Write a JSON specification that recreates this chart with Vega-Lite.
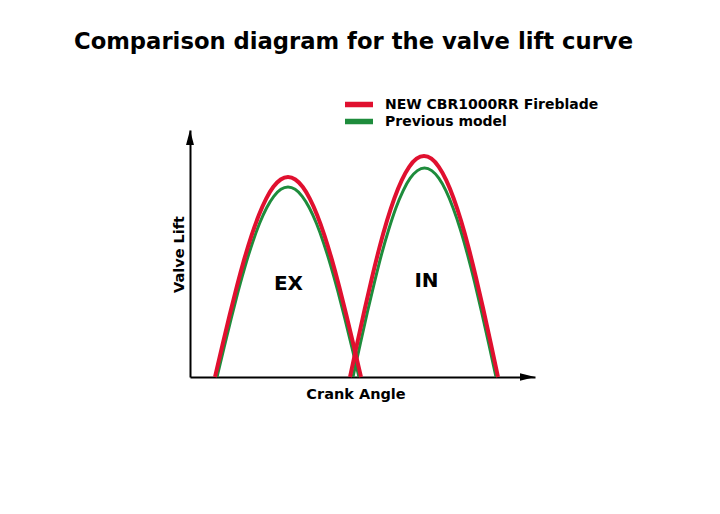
{
  "$schema": "https://vega.github.io/schema/vega-lite/v6.json",
  "width": 345,
  "height": 247,
  "autosize": {"type": "none"},
  "padding": {"left": 190, "top": 130, "right": 185, "bottom": 137},
  "background": "white",
  "config": {"view": {"stroke": null}},
  "title": {
    "text": "Comparison diagram for the valve lift curve",
    "font": "DejaVu Sans",
    "fontSize": 22.7,
    "fontWeight": "bold",
    "color": "black",
    "anchor": "middle",
    "baseline": "alphabetic",
    "offset": 24,
    "dx": -9
  },
  "datasets": {
    "curves": [
      {"model": "NEW CBR1000RR Fireblade", "valve": "EX", "angle": 25, "lift": 0},
      {"model": "NEW CBR1000RR Fireblade", "valve": "EX", "angle": 32.3, "lift": 31.3},
      {"model": "NEW CBR1000RR Fireblade", "valve": "EX", "angle": 39.6, "lift": 61.8},
      {"model": "NEW CBR1000RR Fireblade", "valve": "EX", "angle": 46.9, "lift": 90.8},
      {"model": "NEW CBR1000RR Fireblade", "valve": "EX", "angle": 54.2, "lift": 117.6},
      {"model": "NEW CBR1000RR Fireblade", "valve": "EX", "angle": 61.5, "lift": 141.4},
      {"model": "NEW CBR1000RR Fireblade", "valve": "EX", "angle": 68.8, "lift": 161.8},
      {"model": "NEW CBR1000RR Fireblade", "valve": "EX", "angle": 76.1, "lift": 178.2},
      {"model": "NEW CBR1000RR Fireblade", "valve": "EX", "angle": 83.4, "lift": 190.2},
      {"model": "NEW CBR1000RR Fireblade", "valve": "EX", "angle": 90.7, "lift": 197.5},
      {"model": "NEW CBR1000RR Fireblade", "valve": "EX", "angle": 98, "lift": 200},
      {"model": "NEW CBR1000RR Fireblade", "valve": "EX", "angle": 105.3, "lift": 197.5},
      {"model": "NEW CBR1000RR Fireblade", "valve": "EX", "angle": 112.6, "lift": 190.2},
      {"model": "NEW CBR1000RR Fireblade", "valve": "EX", "angle": 119.9, "lift": 178.2},
      {"model": "NEW CBR1000RR Fireblade", "valve": "EX", "angle": 127.2, "lift": 161.8},
      {"model": "NEW CBR1000RR Fireblade", "valve": "EX", "angle": 134.5, "lift": 141.4},
      {"model": "NEW CBR1000RR Fireblade", "valve": "EX", "angle": 141.8, "lift": 117.6},
      {"model": "NEW CBR1000RR Fireblade", "valve": "EX", "angle": 149.1, "lift": 90.8},
      {"model": "NEW CBR1000RR Fireblade", "valve": "EX", "angle": 156.4, "lift": 61.8},
      {"model": "NEW CBR1000RR Fireblade", "valve": "EX", "angle": 163.7, "lift": 31.3},
      {"model": "NEW CBR1000RR Fireblade", "valve": "EX", "angle": 171, "lift": 0},
      {"model": "Previous model", "valve": "EX", "angle": 27, "lift": 0},
      {"model": "Previous model", "valve": "EX", "angle": 34.1, "lift": 29.7},
      {"model": "Previous model", "valve": "EX", "angle": 41.2, "lift": 58.7},
      {"model": "Previous model", "valve": "EX", "angle": 48.3, "lift": 86.3},
      {"model": "Previous model", "valve": "EX", "angle": 55.4, "lift": 111.7},
      {"model": "Previous model", "valve": "EX", "angle": 62.5, "lift": 134.3},
      {"model": "Previous model", "valve": "EX", "angle": 69.6, "lift": 153.7},
      {"model": "Previous model", "valve": "EX", "angle": 76.7, "lift": 169.3},
      {"model": "Previous model", "valve": "EX", "angle": 83.8, "lift": 180.7},
      {"model": "Previous model", "valve": "EX", "angle": 90.9, "lift": 187.7},
      {"model": "Previous model", "valve": "EX", "angle": 98, "lift": 190},
      {"model": "Previous model", "valve": "EX", "angle": 105.1, "lift": 187.7},
      {"model": "Previous model", "valve": "EX", "angle": 112.2, "lift": 180.7},
      {"model": "Previous model", "valve": "EX", "angle": 119.3, "lift": 169.3},
      {"model": "Previous model", "valve": "EX", "angle": 126.4, "lift": 153.7},
      {"model": "Previous model", "valve": "EX", "angle": 133.5, "lift": 134.3},
      {"model": "Previous model", "valve": "EX", "angle": 140.6, "lift": 111.7},
      {"model": "Previous model", "valve": "EX", "angle": 147.7, "lift": 86.3},
      {"model": "Previous model", "valve": "EX", "angle": 154.8, "lift": 58.7},
      {"model": "Previous model", "valve": "EX", "angle": 161.9, "lift": 29.7},
      {"model": "Previous model", "valve": "EX", "angle": 169, "lift": 0},
      {"model": "NEW CBR1000RR Fireblade", "valve": "IN", "angle": 160, "lift": 0},
      {"model": "NEW CBR1000RR Fireblade", "valve": "IN", "angle": 167.4, "lift": 34.6},
      {"model": "NEW CBR1000RR Fireblade", "valve": "IN", "angle": 174.8, "lift": 68.3},
      {"model": "NEW CBR1000RR Fireblade", "valve": "IN", "angle": 182.2, "lift": 100.3},
      {"model": "NEW CBR1000RR Fireblade", "valve": "IN", "angle": 189.6, "lift": 129.9},
      {"model": "NEW CBR1000RR Fireblade", "valve": "IN", "angle": 197, "lift": 156.3},
      {"model": "NEW CBR1000RR Fireblade", "valve": "IN", "angle": 204.4, "lift": 178.8},
      {"model": "NEW CBR1000RR Fireblade", "valve": "IN", "angle": 211.8, "lift": 196.9},
      {"model": "NEW CBR1000RR Fireblade", "valve": "IN", "angle": 219.2, "lift": 210.2},
      {"model": "NEW CBR1000RR Fireblade", "valve": "IN", "angle": 226.6, "lift": 218.3},
      {"model": "NEW CBR1000RR Fireblade", "valve": "IN", "angle": 234, "lift": 221},
      {"model": "NEW CBR1000RR Fireblade", "valve": "IN", "angle": 241.4, "lift": 218.3},
      {"model": "NEW CBR1000RR Fireblade", "valve": "IN", "angle": 248.8, "lift": 210.2},
      {"model": "NEW CBR1000RR Fireblade", "valve": "IN", "angle": 256.2, "lift": 196.9},
      {"model": "NEW CBR1000RR Fireblade", "valve": "IN", "angle": 263.6, "lift": 178.8},
      {"model": "NEW CBR1000RR Fireblade", "valve": "IN", "angle": 271, "lift": 156.3},
      {"model": "NEW CBR1000RR Fireblade", "valve": "IN", "angle": 278.4, "lift": 129.9},
      {"model": "NEW CBR1000RR Fireblade", "valve": "IN", "angle": 285.8, "lift": 100.3},
      {"model": "NEW CBR1000RR Fireblade", "valve": "IN", "angle": 293.2, "lift": 68.3},
      {"model": "NEW CBR1000RR Fireblade", "valve": "IN", "angle": 300.6, "lift": 34.6},
      {"model": "NEW CBR1000RR Fireblade", "valve": "IN", "angle": 308, "lift": 0},
      {"model": "Previous model", "valve": "IN", "angle": 163, "lift": 0},
      {"model": "Previous model", "valve": "IN", "angle": 170.2, "lift": 32.7},
      {"model": "Previous model", "valve": "IN", "angle": 177.3, "lift": 64.6},
      {"model": "Previous model", "valve": "IN", "angle": 184.5, "lift": 94.9},
      {"model": "Previous model", "valve": "IN", "angle": 191.6, "lift": 122.9},
      {"model": "Previous model", "valve": "IN", "angle": 198.8, "lift": 147.8},
      {"model": "Previous model", "valve": "IN", "angle": 205.9, "lift": 169.1},
      {"model": "Previous model", "valve": "IN", "angle": 213.1, "lift": 186.2},
      {"model": "Previous model", "valve": "IN", "angle": 220.2, "lift": 198.8},
      {"model": "Previous model", "valve": "IN", "angle": 227.4, "lift": 206.4},
      {"model": "Previous model", "valve": "IN", "angle": 234.5, "lift": 209},
      {"model": "Previous model", "valve": "IN", "angle": 241.7, "lift": 206.4},
      {"model": "Previous model", "valve": "IN", "angle": 248.8, "lift": 198.8},
      {"model": "Previous model", "valve": "IN", "angle": 256, "lift": 186.2},
      {"model": "Previous model", "valve": "IN", "angle": 263.1, "lift": 169.1},
      {"model": "Previous model", "valve": "IN", "angle": 270.3, "lift": 147.8},
      {"model": "Previous model", "valve": "IN", "angle": 277.4, "lift": 122.9},
      {"model": "Previous model", "valve": "IN", "angle": 284.6, "lift": 94.9},
      {"model": "Previous model", "valve": "IN", "angle": 291.7, "lift": 64.6},
      {"model": "Previous model", "valve": "IN", "angle": 298.9, "lift": 32.7},
      {"model": "Previous model", "valve": "IN", "angle": 306, "lift": 0}
    ],
    "arrows": [
      {"angle": 0, "lift": 239.5, "shape": "M0,-1L0.53,1L-0.53,1Z"},
      {"angle": 337.5, "lift": 0, "shape": "M1,0L-1,0.5L-1,-0.5Z"}
    ],
    "labels": [
      {"label": "EX", "angle": 98.5, "lift": 93},
      {"label": "IN", "angle": 236.5, "lift": 96}
    ]
  },
  "encoding": {
    "x": {
      "field": "angle",
      "type": "quantitative",
      "scale": {"domain": [0, 345], "nice": false, "zero": false},
      "axis": {
        "title": "Crank Angle",
        "ticks": false,
        "labels": false,
        "grid": false,
        "domainColor": "black",
        "domainWidth": 2,
        "titleFont": "DejaVu Sans",
        "titleFontSize": 14.5,
        "titleFontWeight": "bold",
        "titleColor": "black",
        "titleX": 165.5,
        "titleY": 21,
        "titleAlign": "center",
        "titleBaseline": "alphabetic"
      }
    },
    "y": {
      "field": "lift",
      "type": "quantitative",
      "scale": {"domain": [0, 247], "nice": false, "zero": false},
      "axis": {
        "title": "Valve Lift",
        "ticks": false,
        "labels": false,
        "grid": false,
        "domainColor": "black",
        "domainWidth": 2,
        "titleFont": "DejaVu Sans",
        "titleFontSize": 14.5,
        "titleFontWeight": "bold",
        "titleColor": "black",
        "titleAngle": 270,
        "titleX": -7,
        "titleY": 124,
        "titleAlign": "center",
        "titleBaseline": "alphabetic"
      }
    }
  },
  "layer": [
    {
      "data": {"name": "curves"},
      "transform": [{"filter": "datum.model === 'Previous model'"}],
      "mark": {"type": "line", "strokeWidth": 3, "interpolate": "natural"},
      "encoding": {
        "color": {
          "field": "model",
          "type": "nominal",
          "scale": {"domain": ["NEW CBR1000RR Fireblade", "Previous model"], "range": ["#E0102F", "#1E8C3C"]},
          "legend": {
            "orient": "none",
            "legendX": 152,
            "legendY": -34,
            "title": null,
            "padding": 0,
            "symbolType": "stroke",
            "symbolSize": 784,
            "symbolStrokeWidth": 5.5,
            "symbolOpacity": 1,
            "labelFont": "DejaVu Sans",
            "labelFontWeight": "bold",
            "labelFontSize": 14,
            "labelColor": "black",
            "labelOffset": 9,
            "labelLimit": 400,
            "clipHeight": 17,
            "rowPadding": 0
          }
        },
        "detail": {"field": "valve"}
      }
    },
    {
      "data": {"name": "curves"},
      "transform": [{"filter": "datum.model === 'NEW CBR1000RR Fireblade'"}],
      "mark": {"type": "line", "strokeWidth": 4, "interpolate": "natural"},
      "encoding": {
        "color": {"field": "model", "type": "nominal"},
        "detail": {"field": "valve"}
      }
    },
    {
      "data": {"name": "arrows"},
      "mark": {"type": "point", "filled": true, "opacity": 1, "size": 225, "color": "black", "strokeWidth": 0},
      "encoding": {
        "shape": {"field": "shape", "type": "nominal", "scale": null}
      }
    },
    {
      "data": {"name": "labels"},
      "mark": {"type": "text", "font": "DejaVu Sans", "fontSize": 20, "fontWeight": "bold", "color": "black", "baseline": "middle", "align": "center"},
      "encoding": {
        "text": {"field": "label"}
      }
    }
  ]
}
